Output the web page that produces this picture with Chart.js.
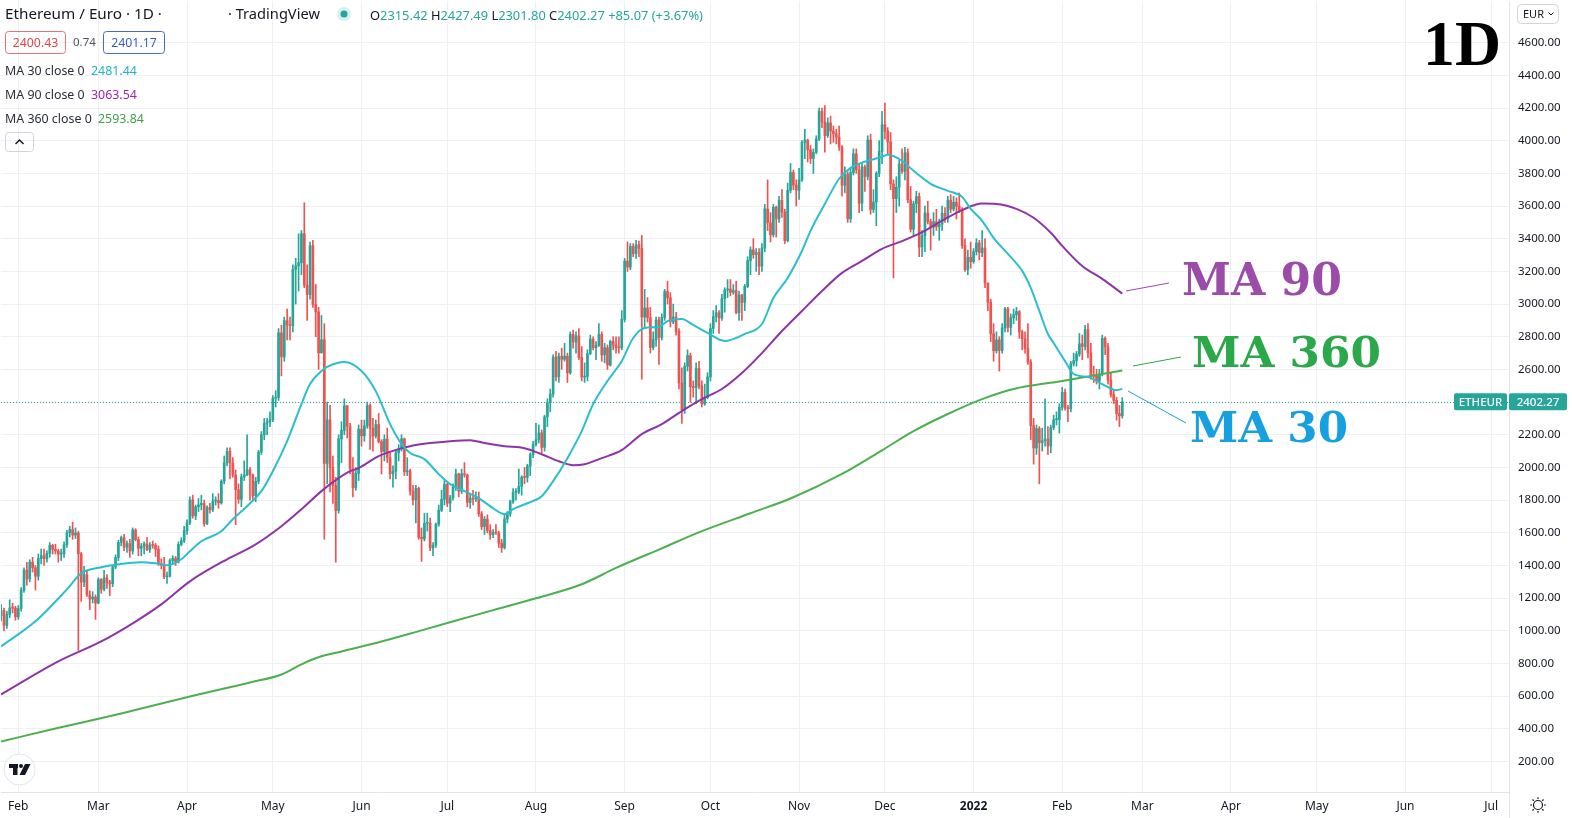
<!DOCTYPE html>
<html><head><meta charset="utf-8">
<style>html,body{margin:0;padding:0;background:#fff;overflow:hidden}#wrap{position:relative;width:1572px;height:818px}</style>
<script src="https://cdn.jsdelivr.net/npm/chart.js@4.4.1/dist/chart.umd.min.js"></script>
</head><body><div id="wrap"><canvas id="c" width="1572" height="818"></canvas></div>
<script>
// ---- DATA (ETH/EUR daily, day 0 = 1 Feb 2021) ----
const startDay = -6;            // first candle: 26 Jan 2021
const firstOpen = 1093;
const closes = [
 1124,1033,1100,1140,1139,1086,
 1136,1249,1372,1317,1420,1386,1334,1443,1461,1441,1474,1523,1499,1488,1470,1472,1527,1601,1620,1586,1599,1472,1298,1344,1219,1195,1206,1170,
 1314,1254,1324,1295,1288,1391,1448,1541,1570,1512,1534,1489,1617,1558,1505,1518,1532,1497,1524,1523,1500,1412,1403,1330,1334,1430,1443,1421,1529,1551,1613,
 1661,1801,1704,1759,1771,1780,1656,1755,1741,1795,1798,1783,1916,2029,2099,2026,1953,1864,1805,1942,1954,1986,1954,1827,1915,2094,2200,2270,2279,2292,
 2424,2428,2824,2677,2899,2872,2868,3212,3233,3253,3431,3115,3058,3357,2998,2952,2701,2782,2025,2291,2000,1889,1736,2175,2227,2377,2252,1991,1876,1964,2234,
 2194,2255,2379,2240,2192,2263,2158,2098,2173,2060,1961,1977,2090,2114,2175,1973,1978,1855,1801,1872,1573,1563,1658,1658,1508,1525,1652,1738,1805,1897,
 1781,1814,1879,1960,1855,1961,1954,1786,1812,1806,1818,1716,1638,1684,1614,1588,1602,1599,1536,1509,1684,1716,1792,1847,1849,1884,1941,1939,2009,2078,2140,
 2170,2212,2123,2309,2396,2449,2676,2554,2681,2662,2681,2579,2815,2767,2805,2673,2553,2557,2697,2785,2733,2747,2814,2689,2733,2627,2771,2749,2733,2732,2907,
 3263,3226,3353,3308,3363,3341,2921,2976,2917,2734,2783,2902,2796,2918,3077,3038,2891,2921,2833,2517,2352,2619,2685,2494,2489,2606,2497,2389,2428,2554,
 2851,2923,2947,2914,3033,3086,3092,3072,3083,2947,3056,3010,3108,3266,3332,3302,3316,3231,3343,3582,3497,3424,3592,3521,3635,3563,3388,3696,3806,3728,3697,
 3760,3990,4003,3945,3891,3929,4010,4180,4114,4031,4109,4059,4042,4023,3962,3727,3795,3522,3805,3920,3821,3617,3839,3781,4004,3579,3625,3800,3934,4098,
 4058,3992,3735,3645,3715,3857,3812,3926,3638,3458,3614,3658,3349,3418,3558,3504,3472,3504,3472,3489,3555,3522,3636,3581,3623,3599,3573,3358,3210,3286,3259,
 3321,3374,3315,3343,3128,3012,2818,2714,2781,2716,2853,2971,2857,2916,2935,2954,2830,2788,2727,2645,2256,2119,2238,2151,2163,2174,2132,2244,2292,2293,2368,
 2460,2363,2359,2634,2654,2694,2757,2740,2843,2701,2568,2558,2529,2573,2790,2739,2534,2446,2411,2330,2315.42,2402.27
];
const highs = [
 1160,1140,1120,1190,1170,1150,
 1155,1265,1385,1420,1435,1450,1400,1470,1500,1500,1490,1540,1530,1530,1500,1500,1545,1615,1640,1665,1630,1610,1480,1395,1370,1245,1240,1220,
 1325,1320,1370,1345,1310,1400,1465,1555,1580,1590,1550,1560,1630,1625,1575,1535,1545,1570,1540,1550,1535,1520,1440,1450,1360,1440,1460,1455,1545,1570,1640,
 1680,1820,1830,1770,1810,1830,1800,1765,1780,1840,1820,1840,1925,2070,2120,2120,2060,1985,1900,1960,2040,2200,2000,1960,1940,2105,2220,2300,2300,2340,
 2440,2470,2850,2870,2920,2970,2920,3240,3280,3430,3450,3620,3240,3380,3390,3120,2980,2930,2880,2400,2380,2070,1940,2200,2280,2420,2380,2270,2060,2000,2260,
 2290,2290,2400,2390,2300,2290,2330,2170,2200,2240,2090,2010,2110,2140,2200,2180,2060,1990,1890,1890,1880,1630,1720,1720,1690,1540,1660,1770,1860,1920,
 1905,1830,1900,1990,1965,1990,2030,1960,1840,1860,1850,1850,1730,1700,1710,1650,1620,1650,1610,1560,1710,1730,1800,1870,1870,1990,1950,2000,2020,2090,2160,
 2270,2260,2230,2320,2420,2480,2690,2710,2700,2730,2760,2700,2830,2840,2830,2850,2740,2640,2720,2810,2800,2770,2880,2830,2760,2750,2780,2800,2800,2800,2960,
 3280,3380,3370,3370,3390,3385,3420,3090,3040,2980,2830,2920,2920,2940,3090,3140,3070,3000,2950,2850,2610,2640,2720,2700,2530,2640,2650,2530,2510,2580,
 2880,2960,2990,2960,3060,3100,3150,3150,3120,3140,3080,3060,3120,3290,3350,3400,3340,3340,3370,3610,3760,3560,3610,3600,3660,3700,3580,3740,3860,3820,3760,
 3830,4000,4070,4010,3970,3950,4030,4200,4200,4215,4140,4150,4090,4070,4090,3970,3840,3810,3830,3950,3950,3860,3860,3850,4030,4040,3700,3810,4000,4180,
 4230,4080,4050,3760,3780,3880,3950,3960,3950,3720,3630,3690,3680,3450,3600,3630,3520,3560,3580,3520,3600,3590,3660,3670,3660,3650,3680,3590,3400,3330,3380,
 3340,3400,3390,3450,3400,3130,3030,2880,2830,2800,2880,2980,2980,2940,2970,2980,2960,2840,2830,2880,2660,2300,2260,2250,2240,2420,2250,2260,2320,2340,2390,
 2490,2480,2380,2650,2700,2710,2820,2810,2870,2880,2760,2620,2600,2600,2810,2800,2760,2580,2470,2430,2380,2427.49
];
const lows = [
 1060,1000,1015,1080,1110,1065,
 1070,1120,1235,1280,1300,1360,1250,1310,1410,1400,1420,1450,1470,1470,1420,1430,1450,1510,1575,1560,1565,880,1180,1270,1210,1130,1170,1070,
 1165,1230,1245,1260,1215,1270,1380,1430,1520,1490,1480,1450,1470,1550,1460,1460,1470,1490,1480,1505,1455,1400,1380,1320,1290,1330,1410,1400,1415,1520,1540,
 1590,1650,1690,1680,1730,1740,1640,1650,1720,1730,1770,1750,1775,1900,2010,1930,1940,1650,1780,1760,1920,1950,1800,1800,1790,1900,2080,2170,2200,2250,
 2280,2370,2410,2560,2650,2780,2780,2830,3000,3080,3180,3100,2900,3030,2980,2800,2600,2700,1560,1900,1850,1780,1420,1720,2030,2200,2180,1960,1820,1860,1920,
 2130,2160,2240,2110,2100,2180,2150,1960,2040,2030,1930,1880,1930,2040,2100,1950,1950,1830,1770,1660,1560,1425,1550,1610,1490,1460,1510,1640,1730,1770,
 1760,1730,1800,1860,1820,1840,1940,1760,1750,1770,1790,1700,1620,1590,1600,1560,1570,1590,1510,1480,1500,1660,1700,1780,1800,1840,1830,1900,1910,1950,2060,
 2130,2150,2090,2100,2250,2340,2430,2530,2520,2600,2650,2520,2570,2730,2700,2660,2530,2520,2530,2690,2720,2660,2740,2650,2640,2600,2620,2720,2700,2700,2720,
 2890,3200,3210,3290,3280,3290,2540,2850,2890,2700,2720,2740,2630,2780,2900,3000,2860,2880,2810,2480,2270,2330,2590,2400,2430,2390,2480,2370,2380,2420,
 2530,2820,2890,2820,2900,2950,3040,3050,3060,2940,2900,2900,2960,3100,3180,3280,3200,3180,3200,3320,3450,3380,3410,3410,3500,3530,3370,3380,3680,3700,3600,
 3640,3750,3890,3870,3860,3800,3920,4000,4080,3930,4020,3980,3990,3980,3940,3660,3680,3500,3500,3790,3800,3560,3570,3690,3760,3550,3560,3480,3780,3860,
 4010,3920,3700,3160,3560,3600,3800,3760,3620,3440,3420,3560,3290,3290,3320,3490,3330,3420,3450,3390,3450,3500,3500,3560,3570,3520,3560,3340,3200,3180,3220,
 3250,3300,3270,3290,3100,2960,2770,2650,2700,2590,2700,2830,2830,2810,2880,2900,2790,2720,2700,2630,2170,2020,2080,1900,2100,2130,2080,2090,2230,2260,2210,
 2350,2350,2280,2340,2620,2620,2680,2660,2720,2670,2540,2520,2510,2480,2560,2690,2510,2430,2390,2290,2250,2301.8
];
const ma30Days = [-6,6,17,22,29,35,43,48,52,57,60,64,71,75,80,85,89,94,99,102,106,108,114,120,125,130,134,137,142,147,151,156,161,165,170,173,178,183,187,192,197,201,206,211,215,219,224,227,232,236,241,247,254,260,264,269,274,277,282,287,291,297,302,304,309,313,319,325,330,333,337,341,346,351,354,357,360,362,366,369,374,379,384,386];
const ma30Vals = [905,1058,1254,1352,1389,1407,1420,1413,1401,1438,1487,1548,1610,1683,1763,1855,1977,2161,2388,2510,2590,2615,2645,2590,2467,2265,2143,2088,2051,1959,1898,1855,1812,1763,1714,1745,1781,1824,1916,2057,2222,2388,2529,2651,2792,2854,2860,2896,2909,2872,2823,2774,2817,2878,3037,3160,3325,3448,3613,3767,3834,3877,3901,3914,3877,3816,3736,3693,3656,3583,3509,3405,3307,3203,3099,2958,2817,2762,2651,2572,2553,2510,2473,2481];
const ma90Days = [-6,14,29,40,50,60,73,82,92,99,106,110,116,119,126,133,137,144,151,158,163,170,177,183,189,194,198,204,211,218,225,232,239,246,253,260,267,274,281,288,295,302,309,316,323,330,337,342,349,355,361,365,372,379,386];
const ma90Vals = [611,813,935,1046,1162,1303,1438,1518,1640,1744,1855,1910,1977,1996,2069,2112,2130,2149,2161,2167,2149,2130,2118,2081,2038,2014,2020,2057,2106,2204,2265,2345,2418,2480,2578,2700,2835,2958,3080,3191,3264,3338,3385,3440,3510,3575,3615,3613,3583,3528,3436,3356,3233,3154,3064];
const ma360Days = [-6,13,36,60,81,92,99,106,113,127,141,162,181,197,209,225,239,256,270,288,302,313,325,337,348,365,386];
const ma360Vals = [323,402,494,598,684,733,795,844,874,935,1003,1107,1199,1285,1385,1505,1610,1720,1810,1960,2105,2222,2327,2418,2480,2529,2594];
const monthDays = [0,28,59,89,120,150,181,212,242,273,303,334,365,393,424,454,485,515];
const monthLabels = ['Feb','Mar','Apr','May','Jun','Jul','Aug','Sep','Oct','Nov','Dec','2022','Feb','Mar','Apr','May','Jun','Jul'];
const priceTicks = [200,400,600,800,1000,1200,1400,1600,1800,2000,2200,2400,2600,2800,3000,3200,3400,3600,3800,4000,4200,4400,4600];
const lastOHLC = {o:'2315.42', h:'2427.49', l:'2301.80', c:'2402.27', chg:'+85.07 (+3.67%)'};
const bidAsk = ['2400.43','0.74','2401.17'];
const legendVals = {ma30:'2481.44', ma90:'3063.54', ma360:'2593.84'};

// ---- build library data ----
const UP = '#26a69a', DOWN = '#ef5350';
const opens = closes.map((c,i)=> i===0 ? firstOpen : closes[i-1]);
const days = closes.map((c,i)=> startDay + i);
const candleColors = closes.map((c,i)=> c >= opens[i] ? UP : DOWN);
const bodyData = closes.map((c,i)=>({x:days[i], y:[opens[i], c]}));
const wickData = closes.map((c,i)=>({x:days[i], y:[lows[i], highs[i]]}));
const pts = (d,v)=> d.map((x,i)=>({x, y:v[i]}));
const lastPrice = closes[closes.length-1];

const FONT = "'Noto Sans', 'DejaVu Sans', sans-serif";
Chart.defaults.font.family = FONT;
const TXT = '#131722';

function txt(ctx,s,x,y,size,color,opt={}){
  ctx.font=(opt.weight||'normal')+' '+size+'px '+(opt.family||FONT);
  ctx.fillStyle=color; ctx.textAlign=opt.align||'left'; ctx.textBaseline=opt.base||'middle';
  ctx.fillText(s,x,y); return ctx.measureText(s).width;
}
function sizeFor(ctx,s,targetW,weight,family){
  ctx.font=(weight||'normal')+' 100px '+(family||FONT);
  return 100*targetW/ctx.measureText(s).width;
}
function bigText(ctx,s,x,base,targetW,color,family){
  const size=sizeFor(ctx,s,targetW,'bold',family);
  ctx.font='bold '+size+'px '+family;
  ctx.fillStyle=color; ctx.textAlign='left'; ctx.textBaseline='alphabetic';
  ctx.fillText(s,x,base);
}
function line(ctx,x1,y1,x2,y2,color,w){ctx.beginPath();ctx.moveTo(x1,y1);ctx.lineTo(x2,y2);ctx.strokeStyle=color;ctx.lineWidth=w||1;ctx.stroke();}

const overlay = {
  id:'overlay',
  beforeDatasetsDraw(chart){
    const {ctx, chartArea:a, scales:{y}} = chart;
    const py = Math.round(y.getPixelForValue(lastPrice))+0.5;
    ctx.save(); ctx.setLineDash([1,2]);
    line(ctx,a.left,py,a.right,py,UP,1);
    ctx.restore();
  },
  afterDraw(chart){
    const {ctx, chartArea:a, scales:{y}} = chart;
    ctx.save();
    // header
    const h1='Ethereum / Euro · 1D ·';
    txt(ctx,h1,5,15,sizeFor(ctx,h1,157),TXT);
    const h2='· TradingView';
    txt(ctx,h2,228,15,sizeFor(ctx,h2,92),TXT);
    ctx.beginPath(); ctx.arc(344,14,7,0,Math.PI*2); ctx.fillStyle='rgba(38,166,154,0.18)'; ctx.fill();
    ctx.beginPath(); ctx.arc(344,14,3.5,0,Math.PI*2); ctx.fillStyle=UP; ctx.fill();
    const parts=[['O',TXT],[lastOHLC.o,UP],[' H',TXT],[lastOHLC.h,UP],[' L',TXT],[lastOHLC.l,UP],[' C',TXT],[lastOHLC.c,UP],[' '+lastOHLC.chg,UP]];
    const ohlcSize=sizeFor(ctx,parts.map(p=>p[0]).join(''),333);
    let x=370;
    for(const [s,c] of parts){ x += txt(ctx,s,x,16,ohlcSize,c); }
    // bid / ask
    ctx.beginPath(); ctx.roundRect(5.5,31.5,60,22,3); ctx.strokeStyle='#e57373'; ctx.lineWidth=1; ctx.stroke();
    txt(ctx,bidAsk[0],35.5,43,12.3,'#e04848',{align:'center'});
    txt(ctx,bidAsk[1],73,43,11.5,'#50535e');
    ctx.beginPath(); ctx.roundRect(103.5,31.5,61,22,3); ctx.strokeStyle='#4a66cf'; ctx.stroke();
    txt(ctx,bidAsk[2],134,43,12.3,'#3d5bc9',{align:'center'});
    // MA legend
    const ls=12.4;
    let w=txt(ctx,'MA 30 close 0',5,71,ls,'#2a2e39'); txt(ctx,legendVals.ma30,91,71,ls,'#22b5c8');
    w=txt(ctx,'MA 90 close 0',5,95,ls,'#2a2e39'); txt(ctx,legendVals.ma90,91,95,ls,'#9c27b0');
    w=txt(ctx,'MA 360 close 0',5,119,ls,'#2a2e39'); txt(ctx,legendVals.ma360,98,119,ls,'#43a047');
    ctx.beginPath(); ctx.roundRect(5.5,132.5,28,19,3); ctx.strokeStyle='#d1d4dc'; ctx.lineWidth=1; ctx.stroke();
    ctx.beginPath(); ctx.moveTo(15.5,144); ctx.lineTo(19.5,140); ctx.lineTo(23.5,144); ctx.strokeStyle=TXT; ctx.lineWidth=1.5; ctx.stroke();
    // EUR selector
    ctx.lineWidth=1;
    ctx.beginPath(); ctx.roundRect(1517.5,4.5,41,19,4); ctx.strokeStyle='#d1d4dc'; ctx.stroke();
    txt(ctx,'EUR',1523,14.5,11,TXT);
    ctx.beginPath(); ctx.moveTo(1548.5,12.5); ctx.lineTo(1551,15); ctx.lineTo(1553.5,12.5); ctx.strokeStyle=TXT; ctx.stroke();
    // 1D
    bigText(ctx,'1D',1423,65,78,'#000',"'Liberation Serif', serif");
    // MA annotations
    bigText(ctx,'MA 90',1182,295,160,'#9b4ba8',"'DejaVu Serif', serif");
    bigText(ctx,'MA 360',1192,367,189,'#2aa84a',"'DejaVu Serif', serif");
    bigText(ctx,'MA 30',1190,442,158,'#16a0e0',"'DejaVu Serif', serif");
    line(ctx,1126,291,1169,283,'#9b4ba8',1);
    line(ctx,1133,366,1181,357,'#2aa84a',1);
    line(ctx,1128,391,1186,423,'#16a0e0',1);
    // price label
    const py=y.getPixelForValue(lastPrice);
    ctx.fillStyle=UP;
    ctx.beginPath(); ctx.roundRect(1454,py-8.5,53,17,2); ctx.fill();
    ctx.beginPath(); ctx.roundRect(a.right,py-8.5,58,17,2); ctx.fill();
    txt(ctx,'ETHEUR',1480.5,py+0.5,11.5,'#fff',{align:'center',weight:'500'});
    txt(ctx,lastOHLC.c,a.right+29,py+0.5,11.5,'#fff',{align:'center',weight:'500'});
    // axis corner separator
    line(ctx,a.right+0.5,a.bottom,a.right+0.5,818,'#e0e3eb',1);
    // sun icon
    ctx.strokeStyle=TXT; ctx.lineWidth=1.2;
    ctx.beginPath(); ctx.arc(1538,805,4.5,0,Math.PI*2); ctx.stroke();
    for(let k=0;k<8;k++){const an=k*Math.PI/4; line(ctx,1538+Math.cos(an)*6,805+Math.sin(an)*6,1538+Math.cos(an)*7.8,805+Math.sin(an)*7.8,TXT,1.2);}
    // TV logo
    ctx.beginPath(); ctx.arc(19.5,769.5,15.5,0,Math.PI*2); ctx.fillStyle='#fff'; ctx.fill(); ctx.strokeStyle='#e0e3eb'; ctx.lineWidth=1; ctx.stroke();
    ctx.fillStyle=TXT;
    ctx.fillRect(9,764,9,4); ctx.fillRect(13,764,4.5,11);
    ctx.beginPath(); ctx.arc(21,766,2,0,Math.PI*2); ctx.fill();
    ctx.beginPath(); ctx.moveTo(25,764); ctx.lineTo(30.5,764); ctx.lineTo(25,775); ctx.lineTo(19.5,775); ctx.closePath(); ctx.fill();
    ctx.restore();
  }
};

const GRID='#eef0f4';
const chart = new Chart(document.getElementById('c'), {
  type:'bar',
  data:{datasets:[
    {type:'line', label:'MA 30', data:pts(ma30Days,ma30Vals), borderColor:'#2bbecd', borderWidth:2, pointRadius:0, cubicInterpolationMode:'monotone', order:0},
    {type:'line', label:'MA 90', data:pts(ma90Days,ma90Vals), borderColor:'#8e34a6', borderWidth:2, pointRadius:0, cubicInterpolationMode:'monotone', order:1},
    {type:'line', label:'MA 360', data:pts(ma360Days,ma360Vals), borderColor:'#4caf50', borderWidth:2, pointRadius:0, cubicInterpolationMode:'monotone', order:2},
    {type:'bar', label:'body', data:bodyData, backgroundColor:candleColors, barThickness:2, grouped:false, minBarLength:1, order:3},
    {type:'bar', label:'wick', data:wickData, backgroundColor:candleColors, barThickness:1, grouped:false, order:4}
  ]},
  options:{
    responsive:false, animation:false, events:[],
    layout:{padding:0},
    plugins:{legend:{display:false}, tooltip:{enabled:false}},
    scales:{
      x:{type:'linear', min:-6.1, max:521.4, offset:false,
        grid:{color:GRID, offset:false, drawTicks:false}, border:{color:'#e0e3eb'},
        ticks:{autoSkip:false, maxRotation:0, padding:7, color:TXT,
          font:(c)=>({size:12, weight:(c.tick && c.tick.value===334)?'bold':'normal'}),
          callback:(v)=>{const i=monthDays.indexOf(v); return i>=0?monthLabels[i]:'';}},
        afterBuildTicks:(s)=>{s.ticks=monthDays.map(v=>({value:v}));},
        afterFit:(s)=>{s.height=26; s.paddingLeft=0; s.paddingRight=0;}
      },
      y:{type:'linear', position:'right', min:16, max:4857,
        grid:{color:GRID, drawTicks:false}, border:{color:'#e0e3eb'},
        ticks:{padding:9, color:TXT, font:{size:11.5}, callback:(v)=>Number(v).toFixed(2)},
        afterBuildTicks:(s)=>{s.ticks=priceTicks.map(v=>({value:v}));},
        afterFit:(s)=>{s.width=63; s.paddingTop=0; s.paddingBottom=0;}
      }
    }
  },
  plugins:[overlay]
});
// align scale ranges to the reference layout (4600 at y=41.7, 200 at y=761.5; day 0 at x=17.3, 2.862 px/day)
(function fit(){
  const a=chart.chartArea, y0=41.7, y1=761.5, ppu=(y1-y0)/4400, ppd=2.862, x0=17.3;
  chart.options.scales.y.max = 4600 + (y0-a.top)/ppu;
  chart.options.scales.y.min = 200 - (a.bottom-y1)/ppu;
  chart.options.scales.x.min = (a.left-x0)/ppd;
  chart.options.scales.x.max = (a.right-x0)/ppd;
  chart.update('none');
})();
</script></body></html>
